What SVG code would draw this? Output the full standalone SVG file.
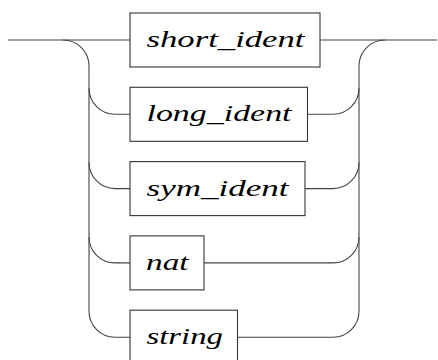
<svg xmlns="http://www.w3.org/2000/svg" width="438" height="360" viewBox="0 0 438 360">
<style>
.box{fill:#fff;stroke:#333;stroke-width:1.1}
.lbl{font-family:"Liberation Serif","DejaVu Serif",serif;font-style:italic;font-size:24px;fill:#000}
.wire{fill:none;stroke:#444;stroke-width:1.1}
</style>
<rect width="438" height="360" fill="#fff"/>
<g id="connectors">
<path class="wire" d="M8,40 H130"/>
<path class="wire" d="M320,40 H437"/>
<path class="wire" d="M63,40 A26,26 0 0 1 89,66 V311.2 A26,26 0 0 0 115,337.2 H130"/>
<path class="wire" d="M89,88.3 A26,26 0 0 0 115,114.3 H130"/>
<path class="wire" d="M89,162.6 A26,26 0 0 0 115,188.6 H130"/>
<path class="wire" d="M89,236.9 A26,26 0 0 0 115,262.9 H130"/>
<path class="wire" d="M385,40 A26,26 0 0 0 359,66 V311.2 A26,26 0 0 1 333,337.2 H237.5"/>
<path class="wire" d="M307.5,114.3 H333 A26,26 0 0 0 359,88.3"/>
<path class="wire" d="M305,188.6 H333 A26,26 0 0 0 359,162.6"/>
<path class="wire" d="M204,262.9 H333 A26,26 0 0 0 359,236.9"/>
</g>
<g id="short_ident">
<rect class="box" x="130" y="13" width="190" height="54"/>
<text class="lbl" x="146.5" y="47" textLength="158" lengthAdjust="spacingAndGlyphs">short_ident</text>
</g>
<g id="long_ident">
<rect class="box" x="130" y="87.3" width="177.5" height="54"/>
<text class="lbl" x="146.5" y="121.3" textLength="145" lengthAdjust="spacingAndGlyphs">long_ident</text>
</g>
<g id="sym_ident">
<rect class="box" x="130" y="161.6" width="175" height="54"/>
<text class="lbl" x="146.5" y="195.6" textLength="142" lengthAdjust="spacingAndGlyphs">sym_ident</text>
</g>
<g id="nat">
<rect class="box" x="130" y="235.9" width="74" height="54"/>
<text class="lbl" x="146" y="269.9" textLength="42.5" lengthAdjust="spacingAndGlyphs">nat</text>
</g>
<g id="string">
<rect class="box" x="130" y="310.2" width="107.5" height="54"/>
<text class="lbl" x="146.5" y="344.2" textLength="76.5" lengthAdjust="spacingAndGlyphs">string</text>
</g>
</svg>
